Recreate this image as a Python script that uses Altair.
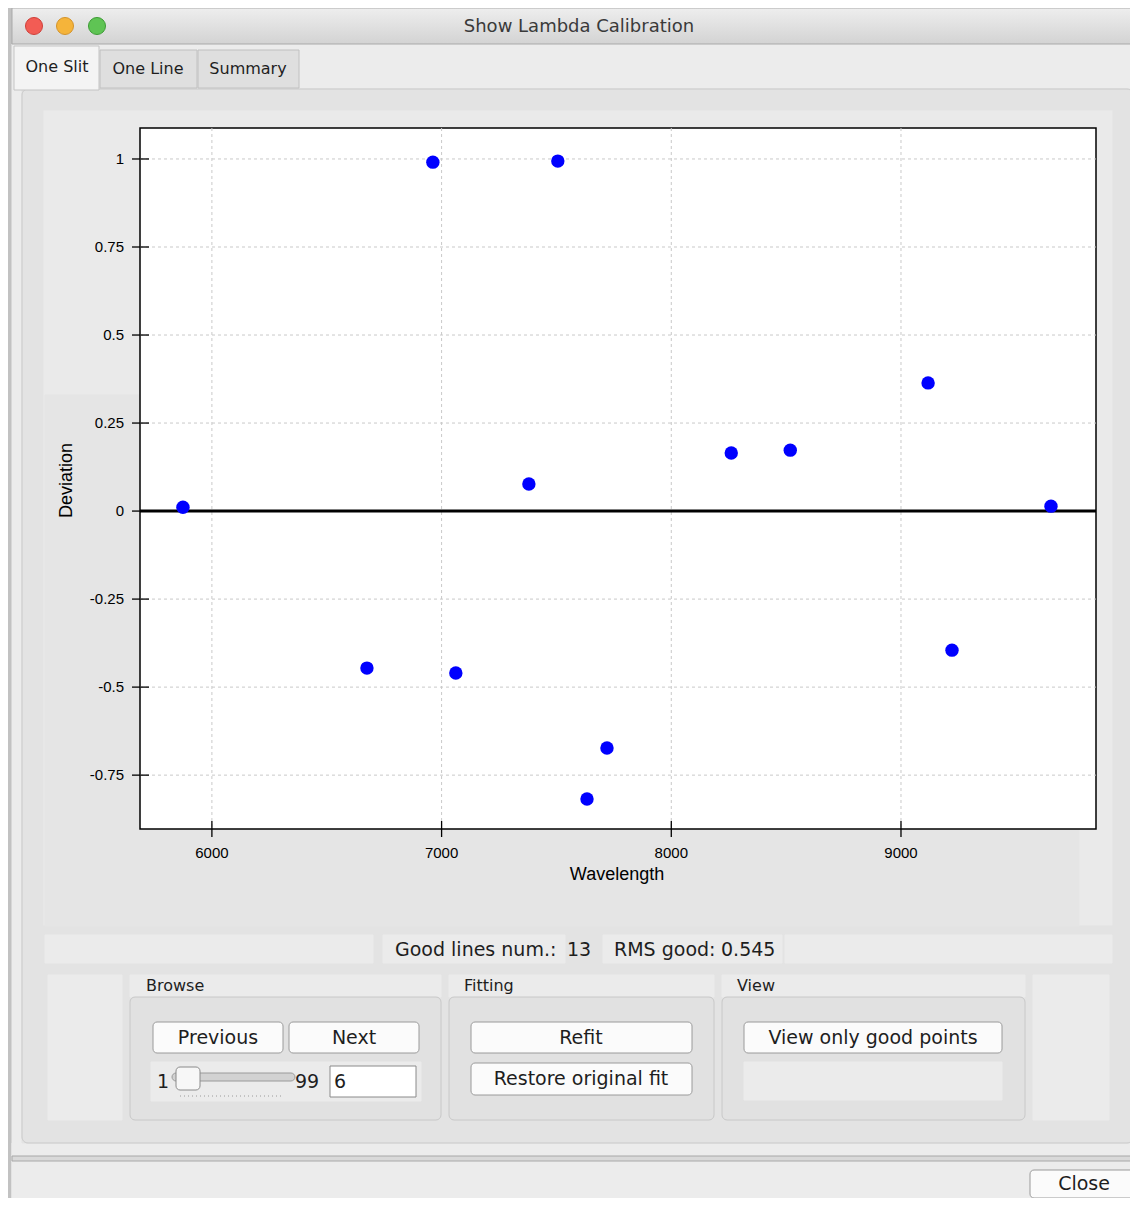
import altair as alt
import pandas as pd

# ---------------- chart data ----------------
wavelength = [5874, 6675, 6962, 7062, 7380, 7506, 7633, 7720, 8261, 8518, 9118, 9222, 9653]
deviation = [0.011, -0.446, 0.991, -0.460, 0.077, 0.994, -0.818, -0.673, 0.165, 0.173, 0.364, -0.395, 0.014]
x_ticks = [6000, 7000, 8000, 9000]
x_tick_labels = ["6000", "7000", "8000", "9000"]
y_ticks = [-0.75, -0.5, -0.25, 0, 0.25, 0.5, 0.75, 1]
y_tick_labels = ["-0.75", "-0.5", "-0.25", "0", "0.25", "0.5", "0.75", "1"]
x_domain = [5687, 9849]
y_domain = [-0.903, 1.088]
zero_level = [0]
x_title = "Wavelength"
y_title = "Deviation"

window_title = "Show Lambda Calibration"
tab_labels = ["One Slit", "One Line", "Summary"]
good_lines = 13
rms_good = 0.545

# ---------------- layout ----------------
W, H = 956, 701          # plot area
OX, OY = 140, 128        # page position of the plot origin
PAD = {"left": OX - 8, "top": OY - 8, "right": 1122 - (OX - 8) - W, "bottom": 1190 - (OY - 8) - H}
FONT_UI = "DejaVu Sans"
FONT_PLOT = "Liberation Sans"

x_scale = alt.Scale(domain=x_domain, nice=False, zero=False)
y_scale = alt.Scale(domain=y_domain, nice=False, zero=False)


def gx(v):
    return v - OX


def gy(v):
    return v - OY


def rect_df(items):
    return pd.DataFrame([{"x": gx(a), "y": gy(b), "x2": gx(c), "y2": gy(d), "fill": f, "stroke": s}
                         for a, b, c, d, f, s in items])


def rect_layer(items, radius=0, sw=1.0):
    return alt.Chart(rect_df(items)).mark_rect(cornerRadius=radius, strokeWidth=sw).encode(
        x=alt.X("x:Q", scale=None, axis=None), x2="x2:Q",
        y=alt.Y("y:Q", scale=None, axis=None), y2="y2:Q",
        fill=alt.Fill("fill:N", scale=None), stroke=alt.Stroke("stroke:N", scale=None))


def text_layer(items, align):
    df = pd.DataFrame([{"x": gx(a), "y": gy(b), "t": t, "size": s, "c": c} for a, b, t, s, c in items])
    return alt.Chart(df).mark_text(align=align, baseline="middle", font=FONT_UI).encode(
        x=alt.X("x:Q", scale=None, axis=None), y=alt.Y("y:Q", scale=None, axis=None),
        text="t:N", size=alt.Size("size:Q", scale=None), color=alt.Color("c:N", scale=None))


# ---------------- window decoration ----------------
WIN, CNT, LIGHT = "#ececec", "#e3e3e3", "#ebebeb"
frame = rect_layer([
    (8, 8, 12, 1198, "#c2c2c2", "#c2c2c2"),
    (12, 44, 1138, 89, WIN, WIN),
    (12, 89, 22, 1198, WIN, WIN),
    (1133, 89, 1138, 1198, WIN, WIN),
    (12, 1143, 1138, 1198, WIN, WIN),
    (22, 89, 1133, 110, CNT, CNT),
    (22, 110, 43, 926, CNT, CNT),
    (1113, 110, 1133, 926, CNT, CNT),
    (22, 926, 1133, 1143, CNT, CNT),
    (45, 395, 1079, 926, "#e5e5e5", "#e5e5e5"),
])
title_bar = alt.Chart(pd.DataFrame({"a": [0]})).mark_rect(
    fill=alt.LinearGradient(gradient="linear", x1=0, x2=0, y1=0, y2=1,
                            stops=[alt.GradientStop(color="#eeeeee", offset=0),
                                   alt.GradientStop(color="#d3d3d3", offset=1)]),
    stroke="#a9a9a9", strokeWidth=1).encode(
    x=alt.value(gx(12)), x2=alt.value(gx(1138)), y=alt.value(gy(8)), y2=alt.value(gy(44)))
lights = alt.Chart(pd.DataFrame({
    "x": [gx(34), gx(65), gx(97)], "y": [gy(26)] * 3,
    "f": ["#f25c54", "#f5b43a", "#5fc454"], "s": ["#cf3f39", "#d4932a", "#3d9c35"]})).mark_circle(
    size=290, opacity=1, strokeWidth=1).encode(
    x=alt.X("x:Q", scale=None, axis=None), y=alt.Y("y:Q", scale=None, axis=None),
    fill=alt.Fill("f:N", scale=None), stroke=alt.Stroke("s:N", scale=None))

panel_border = rect_layer([(22, 89, 1133, 1143, "transparent", "#c9c9c9")], radius=6)
tabs = rect_layer([
    (14, 46, 99, 90, "#f4f4f4", "#c4c4c4"),
    (100, 50, 197, 88, "#dfdfdf", "#c0c0c0"),
    (198, 50, 299, 88, "#dfdfdf", "#c0c0c0"),
])
inner = rect_layer([
    (45, 935, 373, 963, LIGHT, LIGHT),
    (383, 935, 565, 963, LIGHT, LIGHT),
    (603, 935, 782, 963, LIGHT, LIGHT),
    (785, 935, 1112, 963, LIGHT, LIGHT),
    (48, 975, 122, 1120, LIGHT, LIGHT),
    (1033, 975, 1109, 1120, LIGHT, LIGHT),
    (130, 975, 441, 997, LIGHT, LIGHT),
    (449, 975, 714, 997, LIGHT, LIGHT),
    (722, 975, 1025, 997, LIGHT, LIGHT),
    (12, 1156, 1138, 1161, "#d9d9d9", "#a8a8a8"),
])
groups = rect_layer([
    (130, 997, 441, 1120, "#e1e1e1", "#c8c8c8"),
    (449, 997, 714, 1120, "#e1e1e1", "#c8c8c8"),
    (722, 997, 1025, 1120, "#e1e1e1", "#c8c8c8"),
], radius=5)
group_fill = rect_layer([
    (151, 1062, 421, 1101, LIGHT, LIGHT),
    (744, 1062, 1002, 1100, LIGHT, LIGHT),
    (330, 1066, 416, 1097, "#ffffff", "#8a8a8a"),
])
buttons = rect_layer([
    (153, 1022, 283, 1053, "#fbfbfb", "#9a9a9a"),
    (289, 1022, 419, 1053, "#fbfbfb", "#9a9a9a"),
    (471, 1022, 692, 1053, "#fbfbfb", "#9a9a9a"),
    (471, 1063, 692, 1095, "#fbfbfb", "#9a9a9a"),
    (744, 1022, 1002, 1053, "#fbfbfb", "#9a9a9a"),
    (1030, 1170, 1142, 1198, "#fbfbfb", "#9a9a9a"),
    (172, 1073, 295, 1081, "#d2d2d2", "#9a9a9a"),
    (176, 1067, 200, 1090, "#f7f7f7", "#8a8a8a"),
], radius=4)
slider_dots = alt.Chart(pd.DataFrame({"a": [0]})).mark_rule(
    color="#9a9a9a", strokeDash=[1, 3], strokeWidth=1).encode(
    x=alt.value(gx(180)), x2=alt.value(gx(284)), y=alt.value(gy(1096)))

TXT = "#1e1e1e"
texts_center = text_layer([
    (579, 27, window_title, 18, "#3a3a3a"),
    (57, 67, tab_labels[0], 16, TXT),
    (148, 69, tab_labels[1], 16, TXT),
    (248, 69, tab_labels[2], 16, TXT),
    (218, 1038, "Previous", 19, TXT),
    (354, 1038, "Next", 19, TXT),
    (581, 1038, "Refit", 19, TXT),
    (581, 1079, "Restore original fit", 19, TXT),
    (873, 1038, "View only good points", 19, TXT),
    (1084, 1184, "Close", 19, TXT),
], "center")
texts_left = text_layer([
    (395, 950, "Good lines num.:", 19, TXT),
    (567, 950, str(good_lines), 19, TXT),
    (614, 950, "RMS good:", 19, TXT),
    (721, 950, f"{rms_good:.3f}", 19, TXT),
    (146, 986, "Browse", 16, TXT),
    (464, 986, "Fitting", 16, TXT),
    (737, 986, "View", 16, TXT),
    (157, 1082, "1", 19, TXT),
    (295, 1082, "99", 19, TXT),
    (334, 1082, "6", 19, TXT),
], "left")

# ---------------- plot ----------------
one = pd.DataFrame({"a": [0]})
plot_bg = alt.Chart(one).mark_rect(fill="white", stroke="black", strokeWidth=1.5).encode(
    x=alt.value(0), x2=alt.value("width"), y=alt.value(0), y2=alt.value("height"))

xt = pd.DataFrame({"t": x_ticks, "lab": x_tick_labels})
yt = pd.DataFrame({"t": y_ticks, "lab": y_tick_labels})

vgrid = alt.Chart(xt).mark_rule(color="#c9c9c9", strokeDash=[3, 3], strokeWidth=1).encode(
    x=alt.X("t:Q", scale=x_scale, axis=None), y=alt.value(0), y2=alt.value("height"))
hgrid = alt.Chart(yt).mark_rule(color="#c9c9c9", strokeDash=[3, 3], strokeWidth=1).encode(
    y=alt.Y("t:Q", scale=y_scale, axis=None), x=alt.value(0), x2=alt.value("width"))

# axis ticks (crossing the frame) and labels, placed through the scales
x_tick_marks = alt.Chart(xt).mark_rule(color="black", strokeWidth=1.3).encode(
    x=alt.X("t:Q", scale=x_scale, axis=None), y=alt.value(H - 8), y2=alt.value(H + 8))
y_tick_marks = alt.Chart(yt).mark_rule(color="black", strokeWidth=1.3).encode(
    y=alt.Y("t:Q", scale=y_scale, axis=None), x=alt.value(-8), x2=alt.value(9))
x_labels = alt.Chart(xt).mark_text(font=FONT_PLOT, fontSize=15, color="black",
                                   align="center", baseline="middle").encode(
    x=alt.X("t:Q", scale=x_scale, axis=None), y=alt.value(H + 24), text="lab:N")
y_labels = alt.Chart(yt).mark_text(font=FONT_PLOT, fontSize=15, color="black",
                                   align="right", baseline="middle").encode(
    y=alt.Y("t:Q", scale=y_scale, axis=None), x=alt.value(-16), text="lab:N")
x_title_mark = alt.Chart(pd.DataFrame({"t": [x_title]})).mark_text(
    font=FONT_PLOT, fontSize=18, color="black", align="center", baseline="middle").encode(
    x=alt.value(W / 2 - 1), y=alt.value(H + 46), text="t:N")
y_title_mark = alt.Chart(pd.DataFrame({"t": [y_title]})).mark_text(
    font=FONT_PLOT, fontSize=18, color="black", align="center", baseline="middle", angle=270).encode(
    x=alt.value(-73), y=alt.value(H / 2 + 2), text="t:N")

zero_line = alt.Chart(pd.DataFrame({"z": zero_level})).mark_rule(color="black", strokeWidth=3).encode(
    y=alt.Y("z:Q", scale=y_scale, axis=None), x=alt.value(0), x2=alt.value("width"))

pts = pd.DataFrame({"Wavelength": wavelength, "Deviation": deviation})
points = alt.Chart(pts).mark_circle(size=180, color="#0000ff", opacity=1).encode(
    x=alt.X("Wavelength:Q", scale=x_scale, axis=None),
    y=alt.Y("Deviation:Q", scale=y_scale, axis=None))

chart = alt.layer(
    frame, title_bar, lights, panel_border, tabs, inner, groups, group_fill, buttons, slider_dots,
    plot_bg, vgrid, hgrid, zero_line, x_tick_marks, y_tick_marks,
    x_labels, y_labels, x_title_mark, y_title_mark,
    points, texts_center, texts_left
).properties(
    width=W, height=H,
    autosize=alt.AutoSizeParams(type="none"),
    padding=PAD,
    background="#eaeaea",
).configure_view(stroke="transparent")

chart.save("out.html", embed_options={"renderer": "svg", "actions": False})
